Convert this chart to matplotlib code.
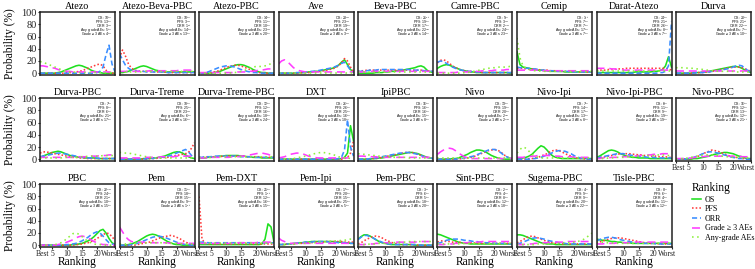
import matplotlib
matplotlib.use("Agg")
import matplotlib.pyplot as plt
from matplotlib.lines import Line2D

TREATMENTS = ["Atezo", "Atezo-Beva-PBC", "Atezo-PBC", "Ave", "Beva-PBC", "Camre-PBC", "Cemip",
              "Darat-Atezo", "Durva", "Durva-PBC", "Durva-Treme", "Durva-Treme-PBC", "DXT",
              "IpiPBC", "Nivo", "Nivo-Ipi", "Nivo-Ipi-PBC", "Nivo-PBC", "PBC", "Pem", "Pem-DXT",
              "Pem-Ipi", "Pem-PBC", "Sint-PBC", "Sugema-PBC", "Tisle-PBC"]
RANKS = list(range(1, 27))
TICK_POS = [1, 5, 10, 15, 20, 26]
TICK_LABELS = ["Best", "5", "10", "15", "20", "Worst"]
Y_TICKS = [0, 20, 40, 60, 80, 100]

OS_PROB = {
    "Atezo": [0,0,0,0,0, 0,1,2,4,6, 8,10,12,13,12, 10,8,5,3,2, 1,0,0,0,0, 0],
    "Atezo-Beva-PBC": [1,1,2,3,5, 7,9,11,12,11, 9,7,5,4,3, 2,2,2,2,2, 2,2,2,2,2, 2],
    "Atezo-PBC": [0,0,0,0,0, 1,2,3,5,7, 9,11,13,14,14, 13,11,9,6,4, 2,1,1,0,0, 0],
    "Ave": [0,0,0,0,0, 0,0,1,1,1, 2,2,3,3,4, 5,6,7,8,10, 13,18,22,14,6, 2],
    "Beva-PBC": [0,0,0,0,0, 0,1,1,1,2, 2,3,3,4,5, 5,6,7,8,9, 11,12,10,5,2, 1],
    "Camre-PBC": [8,11,13,14,13, 11,9,7,5,4, 3,2,2,1,1, 1,1,1,1,1, 1,1,1,1,0, 0],
    "Cemip": [35,14,10,9,8, 7,6,5,5,4, 4,3,3,3,3, 3,2,2,2,2, 2,2,2,2,2, 2],
    "Darat-Atezo": [1,1,1,1,1, 1,1,1,1,1, 1,1,1,2,2, 2,2,2,2,3, 3,4,6,12,27, 10],
    "Durva": [0,0,0,0,0, 0,1,1,1,2, 2,3,4,5,6, 7,8,9,10,11, 11,10,8,5,3, 1],
    "Durva-PBC": [3,5,7,9,11, 12,13,12,10,8, 6,5,4,3,3, 2,2,2,2,1, 1,1,1,1,1, 1],
    "Durva-Treme": [0,0,0,0,0, 0,0,0,1,1, 1,2,2,3,4, 5,7,9,11,12, 12,10,7,4,2, 1],
    "Durva-Treme-PBC": [1,2,2,3,3, 4,4,5,5,6, 6,6,6,6,5, 5,4,4,3,3, 3,2,2,2,2, 2],
    "DXT": [0,0,0,0,0, 0,0,0,0,0, 0,0,0,0,0, 0,0,0,0,0, 0,1,3,10,55, 30],
    "IpiPBC": [0,0,0,0,0, 1,1,2,2,3, 4,5,6,7,8, 9,10,11,11,10, 9,7,5,3,2, 1],
    "Nivo": [0,0,0,0,0, 1,1,2,4,6, 8,11,13,15,15, 14,12,9,6,4, 2,1,0,0,0, 0],
    "Nivo-Ipi": [1,1,2,3,5, 8,13,18,22,20, 15,9,5,3,2, 1,1,1,1,1, 1,1,1,1,1, 1],
    "Nivo-Ipi-PBC": [3,5,8,11,14, 15,14,12,9,7, 5,4,3,3,2, 2,2,2,1,1, 1,1,1,1,1, 1],
    "Nivo-PBC": [0,0,0,0,0, 0,1,1,2,3, 4,5,7,8,9, 10,11,11,10,9, 7,5,4,2,1, 1],
    "PBC": [0,0,0,0,0, 0,0,0,0,0, 0,1,1,2,3, 5,7,10,14,19, 24,26,20,11,4, 1],
    "Pem": [0,0,0,1,2, 4,6,9,12,15, 17,18,17,15,12, 9,6,4,2,1, 1,0,0,0,0, 0],
    "Pem-DXT": [1,1,1,1,1, 1,1,1,1,1, 1,1,1,1,1, 1,1,1,1,1, 1,2,10,35,30, 5],
    "Pem-Ipi": [1,1,1,2,2, 3,3,4,4,5, 5,6,6,6,6, 6,6,6,6,5, 5,5,4,4,3, 3],
    "Pem-PBC": [10,14,17,17,15, 12,9,6,4,3, 2,1,1,1,1, 1,1,1,1,0, 0,0,0,0,0, 0],
    "Sint-PBC": [18,17,15,13,11, 9,7,5,4,3, 3,2,2,2,2, 2,2,2,2,2, 2,2,2,2,2, 2],
    "Sugema-PBC": [17,17,16,14,12, 10,8,6,4,3, 2,2,2,1,1, 1,1,1,1,1, 1,1,1,1,1, 1],
    "Tisle-PBC": [10,9,8,8,7, 6,6,5,5,4, 4,4,3,3,3, 3,3,3,3,3, 3,3,3,3,3, 3],
}

PFS_PROB = {
    "Atezo": [0,0,0,0,0, 0,0,0,0,1, 1,1,2,3,4, 6,8,10,12,14, 15,12,5,1,0, 0],
    "Atezo-Beva-PBC": [25,38,28,15,8, 5,4,3,3,3, 3,2,2,2,2, 2,1,1,1,1, 1,1,1,1,1, 1],
    "Atezo-PBC": [0,0,0,1,1, 2,3,5,7,9, 11,12,13,13,12, 10,8,6,4,2, 1,1,0,0,0, 0],
    "Ave": [0,0,0,0,0, 0,0,0,1,1, 1,2,2,3,3, 4,5,6,7,9, 12,17,24,20,10, 3],
    "Beva-PBC": [3,4,4,5,5, 5,5,5,5,5, 5,5,5,5,5, 5,5,5,5,5, 5,5,4,4,3, 3],
    "Camre-PBC": [17,21,22,20,16, 12,9,7,5,4, 3,3,2,2,2, 1,1,1,1,1, 1,1,1,1,1, 1],
    "Cemip": [8,8,8,7,7, 7,6,6,5,5, 5,4,4,4,3, 3,3,3,3,3, 2,2,2,2,2, 2],
    "Darat-Atezo": [5,5,5,5,6, 6,6,7,7,7, 8,8,8,8,8, 8,8,8,8,8, 8,8,8,8,7, 5],
    "Durva": [0,0,0,0,0, 0,0,1,1,1, 2,2,3,4,5, 6,7,8,9,10, 10,10,9,7,5, 3],
    "Durva-PBC": [10,12,12,11,10, 9,8,7,6,5, 4,3,3,2,2, 2,1,1,1,1, 1,1,1,1,1, 1],
    "Durva-Treme": [0,0,0,0,0, 0,0,0,0,0, 1,1,1,2,2, 3,3,4,5,6, 7,8,9,11,18, 27],
    "Durva-Treme-PBC": [3,3,3,4,4, 4,4,4,5,5, 5,5,5,5,5, 5,4,4,4,4, 4,3,3,3,3, 3],
    "DXT": [0,0,0,0,0, 0,0,0,0,0, 0,0,0,0,0, 0,0,0,0,0, 0,0,1,3,10, 30],
    "IpiPBC": [0,0,0,0,0, 1,1,2,3,4, 5,6,7,8,9, 10,11,11,11,10, 8,6,4,3,2, 1],
    "Nivo": [0,0,0,0,0, 0,0,0,1,1, 2,3,4,6,8, 10,12,14,15,16, 15,12,8,4,2, 1],
    "Nivo-Ipi": [0,0,0,0,1, 1,2,3,5,7, 9,12,14,15,14, 12,9,7,5,3, 2,1,1,0,0, 0],
    "Nivo-Ipi-PBC": [2,3,3,4,5, 6,7,8,9,9, 9,9,8,8,7, 7,6,6,5,5, 5,4,4,4,3, 3],
    "Nivo-PBC": [0,0,0,0,0, 1,2,4,6,9, 11,13,15,14,13, 11,9,7,5,4, 3,2,1,1,0, 0],
    "PBC": [0,0,0,0,0, 0,0,0,0,0, 0,0,1,1,2, 3,4,6,8,11, 14,17,20,19,14, 8],
    "Pem": [0,0,0,0,0, 0,1,2,3,4, 5,7,9,11,13, 14,15,16,15,13, 11,8,5,3,1, 1],
    "Pem-DXT": [80,10,3,2,2, 2,2,2,2,2, 2,2,2,2,2, 2,2,2,2,2, 2,2,2,2,2, 2],
    "Pem-Ipi": [1,1,1,2,2, 2,3,3,3,4, 4,4,5,5,5, 5,6,6,6,6, 6,6,5,5,5, 5],
    "Pem-PBC": [2,4,7,10,12, 14,15,14,12,9, 7,5,3,2,1, 1,1,1,1,1, 0,0,0,0,0, 0],
    "Sint-PBC": [5,7,7,6,6, 5,5,5,4,4, 4,4,4,3,3, 3,3,3,3,3, 3,3,3,3,3, 3],
    "Sugema-PBC": [4,6,9,12,14, 15,14,12,10,8, 6,5,4,3,3, 2,2,2,2,2, 2,2,2,2,2, 2],
    "Tisle-PBC": [3,5,7,8,10, 11,12,12,12,11, 10,9,8,7,6, 5,4,4,3,3, 3,2,2,2,2, 2],
}

ORR_PROB = {
    "Atezo": [0,0,0,0,0, 0,0,0,0,0, 0,0,0,0,0, 0,0,0,0,1, 3,10,30,46,15, 2],
    "Atezo-Beva-PBC": [32,22,13,8,5, 4,3,3,3,2, 2,2,2,2,2, 2,1,1,1,1, 1,1,1,1,1, 1],
    "Atezo-PBC": [0,0,1,2,4, 6,8,10,11,12, 12,11,10,8,6, 5,3,2,1,1, 0,0,0,0,0, 0],
    "Ave": [0,0,0,0,0, 0,1,1,1,2, 2,3,3,4,5, 6,7,8,9,11, 13,16,18,12,5, 1],
    "Beva-PBC": [3,3,4,4,5, 5,5,6,6,6, 6,6,6,6,6, 6,6,6,5,5, 5,5,4,4,3, 3],
    "Camre-PBC": [18,20,19,16,13, 10,8,6,5,4, 3,3,2,2,2, 1,1,1,1,1, 1,1,1,1,1, 1],
    "Cemip": [10,9,9,8,8, 7,7,6,5,5, 4,4,4,3,3, 3,3,3,2,2, 2,2,2,2,2, 2],
    "Darat-Atezo": [0,0,0,0,0, 0,0,0,0,0, 0,0,0,0,0, 0,0,0,0,0, 0,1,1,3,12, 85],
    "Durva": [0,0,0,0,0, 0,0,1,1,1, 2,2,3,3,4, 5,6,7,8,10, 12,13,12,8,4, 2],
    "Durva-PBC": [4,5,6,7,8, 9,10,10,9,8, 7,6,5,4,3, 3,2,2,2,2, 1,1,1,1,1, 1],
    "Durva-Treme": [0,0,0,0,0, 0,0,0,0,1, 1,1,2,2,3, 4,5,6,8,10, 12,14,16,12,6, 2],
    "Durva-Treme-PBC": [3,3,4,4,4, 5,5,5,5,5, 5,5,5,5,4, 4,4,4,3,3, 3,3,3,3,3, 3],
    "DXT": [0,0,0,0,0, 0,0,0,0,0, 0,0,0,0,0, 0,0,0,0,0, 1,3,15,65,20, 5],
    "IpiPBC": [0,0,0,0,1, 1,2,3,4,5, 6,7,8,9,10, 10,11,11,10,9, 8,6,4,3,2, 1],
    "Nivo": [0,0,0,0,0, 0,0,1,1,2, 3,4,5,7,9, 11,13,15,16,16, 14,11,7,4,2, 1],
    "Nivo-Ipi": [0,0,0,0,0, 1,1,2,3,5, 7,9,11,13,14, 14,13,11,9,6, 4,2,1,1,0, 0],
    "Nivo-Ipi-PBC": [2,3,4,5,6, 7,8,9,9,9, 8,7,6,5,5, 4,4,3,3,3, 2,2,2,2,2, 2],
    "Nivo-PBC": [0,0,0,0,1, 2,3,5,7,9, 11,12,12,11,10, 9,7,6,4,3, 2,1,1,0,0, 0],
    "PBC": [0,0,0,0,0, 0,0,0,0,1, 1,2,3,5,7, 10,13,17,20,22, 20,15,9,4,2, 1],
    "Pem": [0,0,0,0,1, 2,3,5,7,9, 11,13,14,15,14, 13,11,9,7,5, 3,2,1,1,0, 0],
    "Pem-DXT": [5,5,5,4,4, 4,4,4,4,4, 4,4,4,4,4, 4,4,4,4,4, 4,4,4,4,4, 4],
    "Pem-Ipi": [1,1,2,2,2, 3,3,4,4,5, 5,5,6,6,6, 6,6,5,5,5, 4,4,4,3,3, 3],
    "Pem-PBC": [9,13,16,16,14, 12,9,7,5,3, 2,2,1,1,1, 1,1,1,1,1, 1,0,0,0,0, 0],
    "Sint-PBC": [3,4,6,8,9, 10,10,10,9,8, 8,7,6,6,5, 5,4,4,4,3, 3,3,3,2,2, 2],
    "Sugema-PBC": [2,3,5,7,9, 11,12,12,11,10, 8,7,6,5,4, 3,3,2,2,2, 2,2,2,2,2, 2],
    "Tisle-PBC": [7,9,11,12,13, 13,12,11,9,8, 7,6,5,4,4, 3,3,3,3,3, 2,2,2,2,2, 2],
}

G3_PROB = {
    "Atezo": [12,12,11,10,9, 8,6,5,4,3, 3,2,2,2,2, 2,2,2,2,2, 2,2,2,2,1, 1],
    "Atezo-Beva-PBC": [3,3,3,3,3, 3,3,3,3,3, 4,4,4,4,4, 4,4,4,4,4, 5,5,5,5,5, 5],
    "Atezo-PBC": [1,1,1,1,1, 1,1,1,1,1, 1,1,1,2,2, 2,2,3,3,4, 5,5,6,7,7, 8],
    "Ave": [15,20,22,19,14, 9,6,4,3,2, 2,2,2,2,2, 2,2,2,2,2, 2,2,2,2,2, 2],
    "Beva-PBC": [2,2,2,2,3, 3,3,3,3,3, 3,3,3,3,3, 3,3,3,3,3, 3,3,3,3,3, 3],
    "Camre-PBC": [1,1,1,1,1, 1,1,2,2,2, 2,3,3,3,3, 4,4,4,4,5, 5,5,5,6,6, 6],
    "Cemip": [5,5,5,5,5, 5,5,5,4,4, 4,4,4,4,4, 4,4,4,4,4, 4,4,4,4,4, 4],
    "Darat-Atezo": [8,8,8,8,8, 7,7,6,6,5, 5,5,5,5,5, 5,5,5,5,5, 5,5,5,5,5, 5],
    "Durva": [3,3,3,3,3, 3,3,3,3,3, 3,3,3,3,3, 3,3,3,3,3, 3,3,3,3,3, 3],
    "Durva-PBC": [3,3,3,3,3, 3,3,3,3,3, 3,3,3,4,4, 4,4,5,5,5, 6,6,6,7,7, 8],
    "Durva-Treme": [2,2,2,2,2, 2,2,2,3,3, 3,3,3,3,4, 4,4,4,4,5, 5,5,5,5,5, 4],
    "Durva-Treme-PBC": [2,2,2,2,3, 3,3,3,3,3, 3,4,4,4,5, 5,6,7,8,9, 10,10,9,8,6, 5],
    "DXT": [2,3,4,6,8, 9,10,10,9,7, 5,4,3,2,2, 2,2,2,2,2, 2,2,2,2,2, 2],
    "IpiPBC": [5,5,5,4,4, 4,4,3,3,3, 3,3,3,3,3, 3,3,3,3,3, 3,3,3,3,3, 3],
    "Nivo": [8,12,15,17,18, 17,14,10,7,4, 2,1,1,1,1, 1,1,1,1,1, 1,1,1,1,1, 1],
    "Nivo-Ipi": [3,3,3,4,4, 5,5,6,6,6, 6,6,5,5,5, 4,4,4,4,3, 3,3,3,3,3, 3],
    "Nivo-Ipi-PBC": [1,1,2,2,2, 3,3,3,4,4, 4,5,5,5,6, 6,7,7,7,8, 8,8,9,9,9, 9],
    "Nivo-PBC": [1,1,1,1,2, 2,3,3,4,4, 5,5,5,5,5, 5,5,5,5,5, 5,5,4,4,4, 4],
    "PBC": [0,0,0,0,0, 0,1,2,3,5, 7,9,12,14,15, 14,12,9,6,4, 2,1,1,0,0, 0],
    "Pem": [30,22,14,9,6, 5,5,5,5,4, 4,4,4,4,4, 4,4,3,3,3, 3,3,3,3,3, 3],
    "Pem-DXT": [3,3,3,3,3, 3,3,3,3,3, 3,3,3,4,4, 4,4,4,4,4, 5,5,5,5,5, 5],
    "Pem-Ipi": [12,8,6,4,3, 3,3,3,3,3, 3,3,3,3,3, 3,3,3,3,3, 3,3,3,3,3, 3],
    "Pem-PBC": [1,1,1,2,2, 2,3,3,3,4, 4,4,4,5,5, 5,5,5,5,5, 6,6,6,6,6, 6],
    "Sint-PBC": [1,1,1,2,2, 2,3,3,4,4, 4,5,5,5,5, 6,6,6,6,6, 6,6,6,6,6, 6],
    "Sugema-PBC": [1,1,1,2,2, 2,3,3,3,4, 4,4,5,5,5, 5,5,6,6,6, 6,6,6,6,6, 6],
    "Tisle-PBC": [2,2,2,3,3, 3,3,4,4,4, 4,4,4,5,5, 5,5,5,5,5, 5,5,5,5,5, 5],
}

ANY_PROB = {
    "Atezo": [19,18,16,14,12, 10,8,6,4,3, 2,2,1,1,1, 1,1,1,1,1, 1,1,1,1,1, 1],
    "Atezo-Beva-PBC": [2,2,2,2,2, 2,2,2,3,3, 3,3,3,3,3, 3,3,3,3,3, 3,3,3,3,3, 3],
    "Atezo-PBC": [0,0,0,0,0, 0,0,0,0,0, 0,1,1,2,3, 4,6,8,10,11, 11,11,12,13,16, 20],
    "Ave": [1,1,1,1,1, 1,1,1,1,1, 1,1,1,1,1, 1,1,1,1,1, 1,1,1,1,1, 1],
    "Beva-PBC": [2,2,2,2,2, 2,2,2,2,2, 2,2,2,2,2, 2,2,2,2,2, 2,2,2,2,2, 2],
    "Camre-PBC": [0,0,0,0,0, 0,0,0,0,1, 1,2,3,4,5, 6,7,8,9,9, 10,10,10,10,11, 11],
    "Cemip": [58,25,12,8,6, 5,4,4,3,3, 3,3,3,3,3, 3,3,3,3,3, 3,3,3,3,3, 3],
    "Darat-Atezo": [3,3,3,3,3, 3,3,3,3,3, 3,3,3,3,3, 3,3,3,3,3, 3,3,3,3,3, 3],
    "Durva": [9,9,9,9,8, 8,8,7,7,6, 5,5,4,4,3, 3,3,3,3,3, 2,2,2,2,2, 2],
    "Durva-PBC": [2,2,2,2,2, 2,2,2,3,3, 3,3,3,4,4, 4,5,5,5,5, 5,6,6,6,6, 6],
    "Durva-Treme": [11,11,10,10,9, 8,7,6,5,4, 3,3,2,2,2, 2,2,2,2,2, 2,2,2,2,2, 2],
    "Durva-Treme-PBC": [2,2,3,3,3, 3,4,4,4,4, 4,4,4,4,4, 4,4,4,4,4, 4,4,4,4,4, 4],
    "DXT": [0,0,0,0,1, 1,2,3,4,5, 6,8,9,10,11, 11,10,9,8,6, 4,3,2,2,1, 1],
    "IpiPBC": [9,8,8,7,7, 6,6,5,5,4, 4,3,3,3,3, 3,3,2,2,2, 2,2,2,2,2, 2],
    "Nivo": [2,2,2,2,2, 2,2,2,2,2, 2,2,2,2,2, 2,2,2,2,2, 2,2,2,2,2, 2],
    "Nivo-Ipi": [10,16,20,18,13, 8,5,3,2,2, 2,2,2,2,2, 2,2,2,2,2, 2,2,2,2,2, 2],
    "Nivo-Ipi-PBC": [1,1,1,1,2, 2,2,3,3,3, 4,4,4,5,5, 5,6,6,6,6, 7,7,7,7,6, 6],
    "Nivo-PBC": [0,0,1,1,2, 3,4,5,6,7, 7,7,7,6,6, 5,5,4,4,3, 3,3,2,2,2, 2],
    "PBC": [0,0,0,0,0, 1,2,4,7,11, 15,19,20,18,14, 10,6,4,2,1, 1,0,0,0,0, 0],
    "Pem": [2,2,2,3,3, 3,3,4,4,4, 4,4,4,4,4, 4,3,3,3,3, 3,2,2,2,2, 2],
    "Pem-DXT": [3,3,3,3,3, 3,3,3,3,3, 3,3,3,3,3, 3,3,3,3,3, 3,3,3,3,3, 3],
    "Pem-Ipi": [1,1,1,1,2, 2,2,3,3,3, 4,4,4,5,5, 5,6,6,6,7, 7,8,8,9,10, 10],
    "Pem-PBC": [1,1,1,1,2, 2,2,3,3,3, 4,4,4,5,5, 5,5,6,6,6, 6,6,6,6,6, 6],
    "Sint-PBC": [2,2,2,2,2, 2,2,2,2,3, 3,3,3,3,3, 3,3,3,3,3, 3,3,3,3,3, 3],
    "Sugema-PBC": [1,1,1,1,1, 1,1,2,2,2, 2,3,3,3,3, 4,4,4,5,5, 6,7,9,12,16, 20],
    "Tisle-PBC": [6,5,5,4,4, 4,3,3,3,3, 3,3,3,3,3, 3,3,3,3,3, 3,3,3,3,3, 3],
}

# rank labels: OS, PFS, ORR, Any grade AEs, Grade >= 3 AEs
RANK_OS = [10,10,14,23,21,5,1,24,20,7,18,12,26,16,13,7,6,16,22,11,25,17,3,2,4,8]
RANK_PFS = [13,3,11,23,19,3,7,21,21,8,25,12,26,16,19,14,11,12,24,18,1,20,6,4,9,6]
RANK_ORR = [3,1,10,19,17,2,7,26,22,6,23,16,25,16,20,17,9,13,21,15,12,15,5,8,9,4]
RANK_ANY = [5,14,23,4,22,24,17,8,7,21,6,18,16,15,2,13,19,12,10,9,16,25,18,12,20,11]
RANK_G3 = [4,13,20,3,14,23,7,7,10,17,16,24,18,8,2,8,19,21,15,1,15,5,20,18,22,12]

SERIES_NAMES = ["OS", "PFS", "ORR", "Grade \u2265 3 AEs", "Any-grade AEs"]
SERIES_DATA = [OS_PROB, PFS_PROB, ORR_PROB, G3_PROB, ANY_PROB]

# ---- styling ----
COLORS = ["#1FE01F", "#FF3B3B", "#3A8EFF", "#FF3CFF", "#8CF03C"]
STYLES = ["-", (0, (1, 1.3)), (0, (3.2, 1.8)), (0, (5, 3)), (0, (1, 2.2))]
LW = 1.15
SERIF = ["Liberation Serif", "DejaVu Serif"]
SANS = ["Liberation Sans", "DejaVu Sans"]
TICK_FS = 5.5
TICK_LEN, TICK_PAD = 1.6, 0.8

W, H = 755, 269
fig = plt.figure(figsize=(W / 100, H / 100), dpi=100)
fig.patch.set_facecolor("white")

LEFT0, PITCH_X, PW = 40, 79.5, 75
TOPS, PH = [12, 98, 184], 63


def ordinal(n):
    if 10 <= n % 100 <= 20:
        suf = "th"
    else:
        suf = {1: "st", 2: "nd", 3: "rd"}.get(n % 10, "th")
    return f"{n}$^{{{suf}}}$"


n = len(TREATMENTS)
for idx, t in enumerate(TREATMENTS):
    row, col = divmod(idx, 9)
    left = LEFT0 + col * PITCH_X
    top = TOPS[row]
    ax = fig.add_axes([left / W, 1 - (top + PH) / H, PW / W, PH / H])
    for data, c, ls in zip(SERIES_DATA, COLORS, STYLES):
        ax.plot(RANKS, data[t], color=c, linestyle=ls, linewidth=LW)
    ax.set_xlim(1, 26)
    ax.set_ylim(-3, 100.5)
    for sp in ax.spines.values():
        sp.set_linewidth(1.1)
        sp.set_color("#222222")
    ax.set_title(t, fontsize=7.3, family=SERIF, pad=2.5)

    show_x = (idx + 9 >= n)
    show_y = (col == 0)
    ax.set_xticks(TICK_POS)
    ax.set_yticks(Y_TICKS)
    ax.tick_params(axis="both", direction="out", length=TICK_LEN, width=0.8,
                   pad=TICK_PAD, colors="#222222")
    if show_x:
        # inner labels at their ticks; end labels placed flush against neighbours
        inner = [""] + TICK_LABELS[1:-1] + [""]
        ax.set_xticklabels(inner, fontsize=TICK_FS, family=SERIF)
        yoff = -(TICK_LEN + TICK_PAD)
        ax.annotate(TICK_LABELS[0], xy=(TICK_POS[1], 0),
                    xycoords=("data", "axes fraction"), xytext=(-1.7, yoff),
                    textcoords="offset points", ha="right", va="top",
                    fontsize=TICK_FS, family=SERIF, color="#222222")
        ax.annotate(TICK_LABELS[-1], xy=(TICK_POS[-2], 0),
                    xycoords=("data", "axes fraction"), xytext=(2.9, yoff),
                    textcoords="offset points", ha="left", va="top",
                    fontsize=TICK_FS, family=SERIF, color="#222222")
    else:
        ax.set_xticklabels([])
        ax.tick_params(axis="x", length=0)
    if show_y:
        ax.set_yticklabels([str(v) for v in Y_TICKS], fontsize=7.5, family=SERIF)
    else:
        ax.set_yticklabels([])
        ax.tick_params(axis="y", length=0)
    if row == 2:
        ax.set_xlabel("Ranking", fontsize=8.3, family=SERIF, labelpad=-1.5)

    lines = [f"OS: {ordinal(RANK_OS[idx])}",
             f"PFS: {ordinal(RANK_PFS[idx])}",
             f"ORR: {ordinal(RANK_ORR[idx])}",
             f"Any grade AEs: {ordinal(RANK_ANY[idx])}",
             f"Grade \u2265 3 AEs: {ordinal(RANK_G3[idx])}"]
    for k, s in enumerate(lines):
        ax.text(0.96, 0.905 - k * 0.066, s, transform=ax.transAxes, ha="right",
                va="center", fontsize=2.5, family=SANS, color="#111111")

for row in range(3):
    yc = 1 - (TOPS[row] + PH / 2) / H
    fig.text(10 / W, yc, "Probability (%)", rotation=90, ha="center", va="center",
             fontsize=8.3, family=SERIF)

handles = [Line2D([], [], color=c, linestyle=ls, linewidth=LW)
           for c, ls in zip(COLORS, STYLES)]
leg = fig.legend(handles, SERIES_NAMES, loc="upper left",
                 bbox_to_anchor=(688 / W, 1 - 178 / H), frameon=False,
                 title="Ranking", title_fontsize=8.3,
                 handlelength=1.1, handletextpad=0.45, labelspacing=0.2,
                 borderpad=0, alignment="left",
                 prop={"family": SERIF, "size": 5.8})
leg.get_title().set_family(SERIF)

fig.savefig("out.png", dpi=100, facecolor="white")
